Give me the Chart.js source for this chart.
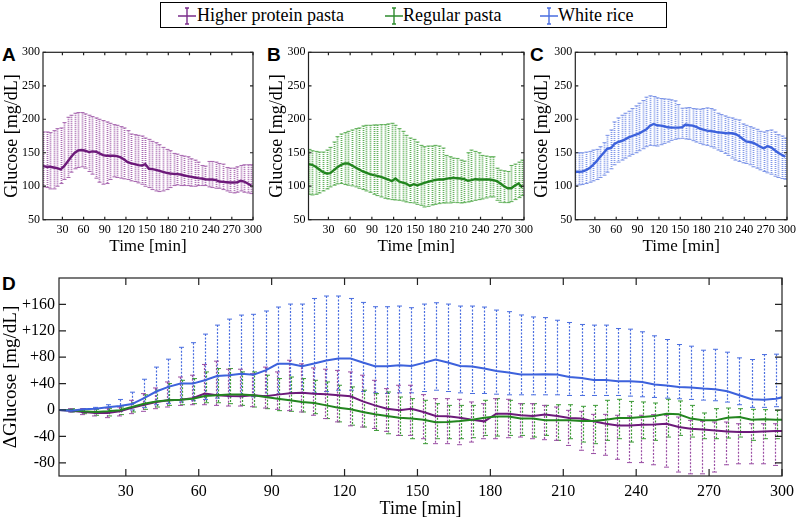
<!DOCTYPE html>
<html>
<head>
<meta charset="utf-8">
<script src="https://cdn.jsdelivr.net/npm/chart.js@4.4.1/dist/chart.umd.min.js"></script>
<style>
  body { margin: 0; background: #fff; width: 800px; height: 522px; position: relative; overflow: hidden; font-family: "Liberation Serif", "Times New Roman", serif; }
  canvas { position: absolute; }
  .tag { position: absolute; font: bold 19px/19px "Liberation Sans", Arial, sans-serif; color: #000; }
  #legend { position: absolute; left: 160px; top: 2px; width: 507px; height: 26px; border: 1px solid #000; box-sizing: border-box; font: 18px/20px "Liberation Serif", "Times New Roman", serif; color: #000; }
  #legend span { position: absolute; top: 2px; white-space: nowrap; }
  #legend svg { position: absolute; top: 4px; }
</style>
</head>
<body>
<div id="legend">
  <svg style="left:17px" width="18" height="18"><path d="M0 9H18M9 1V17M7 1H11M7 17H11" stroke="#7b2d8b" stroke-width="1.4" fill="none"/></svg>
  <span style="left:36px">Higher protein pasta</span>
  <svg style="left:224px" width="18" height="18"><path d="M0 9H18M9 1V17M7 1H11M7 17H11" stroke="#2e8b2e" stroke-width="1.4" fill="none"/></svg>
  <span style="left:242px">Regular pasta</span>
  <svg style="left:379px" width="18" height="18"><path d="M0 9H18M9 1V17M7 1H11M7 17H11" stroke="#4a6ee0" stroke-width="1.4" fill="none"/></svg>
  <span style="left:397px">White rice</span>
</div>
<div class="tag" style="left:2px;top:45px">A</div>
<div class="tag" style="left:267px;top:45px">B</div>
<div class="tag" style="left:530px;top:45px">C</div>
<div class="tag" style="left:2px;top:274px">D</div>
<canvas id="chartA" width="266" height="218" style="left:0;top:40px"></canvas>
<canvas id="chartB" width="272" height="218" style="left:265px;top:40px"></canvas>
<canvas id="chartC" width="269" height="218" style="left:531px;top:40px"></canvas>
<canvas id="chartD" width="800" height="260" style="left:0;top:262px"></canvas>
<script>
// sample times [min] (5-min intervals)
const times = [2.5,7.5,12.5,17.5,22.5,27.5,32.5,37.5,42.5,47.5,52.5,57.5,62.5,67.5,72.5,77.5,82.5,87.5,92.5,97.5,
  102.5,107.5,112.5,117.5,122.5,127.5,132.5,137.5,142.5,147.5,152.5,157.5,162.5,167.5,172.5,177.5,182.5,187.5,192.5,197.5,
  202.5,207.5,212.5,217.5,222.5,227.5,232.5,237.5,242.5,247.5,252.5,257.5,262.5,267.5,272.5,277.5,282.5,287.5,292.5,297.5];
const timesD = times.concat([302.5]);

const xTicks = [30, 60, 90, 120, 150, 180, 210, 240, 270, 300];
const yTicksAbs = [50, 100, 150, 200, 250, 300];
const yTicksDelta = [-80, -40, 0, 40, 80, 120, 160];

// A: higher protein pasta, glucose [mg/dL]
const proteinMean = [130,129,129,128,127,125,130,137,144,150, 153.5,154,153,151,152,151.5,149,146.5,145.5,145.5,
  145.5,145,143,140,136,134,133,131.5,131,133, 126,125.5,124.5,123,121.5,120,119,118.5,118,117.5,
  116,115,114,113,112,111.5,110.5,110,110,109, 107,106.5,106,105.5,105.5,106,108,107,104,101];
const proteinHi = [181,181,180,183,186,187,195,203,206,209, 210,210,208,206,204,202,200,198,196,194,
  192,191,189,187,183,178,177,176,175,172, 170,167,165,162,158,155,153,149,148,146,
  145,144,141,139,136,131,130,137,137,136, 134,133,128,127,127,129,131,132,132,132];
const proteinLo = [99,98,96,96,100,104,110,113,121,126, 128,129,127,122,118,112,106,103,104,110,
  114,113,112,111,110,108,107,105,103,100, 98,95,93,92,93,95,98,101,102,101,
  101,101,100,100,101,101,101,99,98,97, 97,95,93,91,90,91,93,91,90,89];

// B: regular pasta
const regularMean = [133,132,129,125,121,119,119.5,124,128.5,132, 134,134,131,128,125,122,120,118,116.5,115.5,
  114,112,110,107.5,111.5,107,105.5,104,100.5,103, 101.5,103,105,106.5,108,109.5,110,110,111,112,
  112.5,112,111.5,110.5,108,109,110.5,110,110,110, 110,109,107.5,104,100,97,97,101,104,98];
const regularHi = [155,153,152,151,151,154,158,166,174,178, 180,182,184,186,187,190,191,191,191.5,191.5,
  192,192,193,194,191,186,182,176,172,170, 166,161,159,160,160,161,160,157,146,144,
  142,141.5,139,137.5,150,154,152,150,146,145, 144,144,127,124,123,122,131,133,136,139];
const regularLo = [88,87,88,90,93,96,99,101.5,103.5,104, 102.5,101.5,100.5,99,97,95,93,91,88,86,
  84,82,81,80,79.5,79,78,76.5,75.5,75, 73,71.5,69,70,72,73,74,75,75,75,
  76,75.5,75,75.5,76.5,77.5,79,80,81,82.5, 84,84,79,76,75.5,75.5,77,80,83,86];

// C: white rice
const riceMean = [121.5,121.5,122,124,127,132,137.5,144,150,156, 157,163,166,167.5,170,173,175,177,179,182,
  185,190.5,193,191,190.5,189.5,188,187.5,187.5,187.5, 188,192,191,190.5,188.5,186,184.5,183,182.5,181.5,
  180.5,180,179.5,179,179,178,175,171,167,166, 165,162,159,156.5,160,158,154,150,147,144];
const riceHi = [150,150,150,151,152,154,155,159,165,176, 184,196,202,206,209,212,216,220,224,228,
  233,235,234,232,231,230.5,230,229,227.5,222, 216.5,217,217.5,216,215.5,215,216,217,216,214,
  209,207,205,203,202,200,199,193,191,189, 187,185,182,181,183,184,181,177,175,172];
const riceLo = [101.5,102,102.5,104,106,108,110,113,116.5,121, 126,132,136,139,142,145,147.5,150,153,156,
  159,161,160.5,160,162,164,166,168.5,170,171, 171.5,170.5,170,168,166,164,162,161,159,157,
  154,152,149,146,142,139,137,135,134,132, 129,127,124.5,122,120,118,115,113,111.5,110.5];

// D: change in glucose from baseline [mg/dL]
const riceDelta = [0,-1,1,2,4,6,9,18,28,35, 40,40,45,51.5,52.5,55,53.5,60,70,70,
  66.3,70.4,75,78,78,72,66.3,66.3,67.8,66.8, 71.4,76.5,72,66.8,65.8,62.8,59,56.7,53.7,53.7,
  54,53.7,50,48.6,45.6,45.6,43.5,43.5,42.5,38.5, 37,35,34,32.4,31.4,28.4,22.3,16.2,15.7,17.2, 21];
const riceDeltaHi = [0,1,2,4,8,16,27,46.6,65,77, 95,102,115,128.6,137.7,143.8,145,150,156,160.5,
  160.5,169,172.7,172.7,169,163,156.5,156.5,157.5,155, 160.5,162.5,160.5,157.5,157.5,156,151.4,149,144,141,
  140,136,132.6,129.6,128.6,128.6,123.5,122.5,118.5,112.4, 106.8,99.2,96.7,90.6,92,87.6,79,76.5,84,84.6, null];
const riceDeltaLo = [0,-3,-4,-4,-3,-2,0,4,8,10, 12,14,16,18,20,20,20,22,24,25,
  25,26,28,30,30,28,26,25,26,26, 28,30,28,26,25,25,24,23,23,23,
  23,23,22,22,22,22,22,21,20,19, 18,17,16,15,14,12,8,4,4,5, null];

const proteinDelta = [0,-1,-3,-4.5,-4.5,-2,3.5,8,12,14.7, 15.7,18,24.8,22.3,21.3,20.8,22.3,20.8,23.3,25.3,
  26.3,24.8,23.8,22.3,20.8,13,7,2,-0.5,2, -3,-9,-9.6,-11.6,-14.7,-17.2,-5.6,-5.6,-8,-9,
  -7,-9,-12,-13,-17.2,-20.8,-23.3,-23.3,-22.3,-21.8, -20.8,-25.8,-28.4,-29.4,-31,-32.4,-33.4,-33.4,-32.4,-32, -31.5];
const proteinDeltaHi = [0,2,2,2,3,4.5,14.7,24.8,33.4,42.5, 50,52.7,69,74,61.8,61.8,55,65,57.7,75.4,
  70,63.8,61.8,60,57.7,52.7,45,32.4,37.5,37.5, 23.3,17.2,17.2,16.2,12.2,9.6,17.2,16.2,9.6,9.6,
  7,4.5,-0.5,-2,-6.6,-6.6,-8,-9,-8,-7, -8,-10.6,-15.7,-17.2,-18.2,-18.2,-20.8,-20.8,-20.8,-20.8, null];
const proteinDeltaLo = [0,-3,-7,-9,-11.6,-9,-5.5,-2,2,4.5, 7,8,8,7,6,6,5,3,1,-1,
  -3,-8,-13,-18,-24,-25.8,-28,-32.4,-38.5,-38.5, -43.5,-51,-51,-52.6,-48.6,-43.5,-43.5,-42,-41,-43.5,
  -45,-46,-53.7,-61,-66,-68.6,-74.7,-79.7,-79.7,-83, -86.6,-94,-96.7,-96.7,-94,-83,-81.5,-81.5,-81.5,-84, null];

const regularDelta = [0,-0.5,-2,-3,-2,-0.5,4.5,9.6,13,14.7, 15.7,17.2,21.3,22.3,23.3,23.3,22.3,19.7,17.2,14.7,
  12.2,10.6,7,3.5,1,-3,-6.6,-9,-11.6,-13, -14.7,-18.7,-18.2,-16.7,-14.7,-11.6,-10,-10,-13,-13,
  -15.7,-15.7,-15.7,-16.7,-16.7,-14.7,-12,-12,-10.6,-9, -5.6,-6.6,-13,-15.7,-15.7,-11.6,-10.6,-14.7,-14.2,-14.7, -14.5];
const regularDeltaHi = [0,2,1,1,2,4.5,11,23,30,40, 45,47.6,57.7,62.8,62.8,57.7,57.7,52.7,47.6,50,
  47.6,45,42.5,37.5,35,30,24.8,27.3,19.7,17.2, 14.7,9.6,7,7,7,14.7,17.2,14.7,9.6,9.6,
  7,8,8,5.6,7,14.7,16.2,13,12.2,10.6, 16.2,13.7,7,-4.5,2,3,2,1,0.5,-0.5, null];
const regularDeltaLo = [0,-3,-5.6,-8,-9,-7,-3,1,4.5,7, 8,9.6,11,11,9.6,7,4.5,2,-1,-2,
  -3,-5.6,-13,-18,-23,-25.8,-31,-36,-38.5,-43.5, -51,-43.5,-43.5,-43.5,-42,-38.5,-39.5,-38.5,-38.5,-41,
  -38.5,-46,-43.5,-48.6,-51,-46,-43.5,-48.6,-43.5,-46, -41,-38.5,-41,-43.5,-43.5,-42.5,-41,-46,-43.5,-43.5, null];

const PURPLE = { line: "#6d1a7a", bar: "#9a4ea4", barSmall: "#a868b0" };
const GREEN = { line: "#23851f", bar: "#3d9b37", barSmall: "#5cae55" };
const BLUE = { line: "#3d62dc", bar: "#4a6ee0", barSmall: "#7d95e8" };
const SERIF = "'Liberation Serif', 'Times New Roman', serif";

// dotted vertical error bars with caps, drawn under the mean lines
const errorBars = {
  id: "errorBars",
  beforeDatasetsDraw(chart, args, opts) {
    const { ctx, chartArea: a, scales: { x, y } } = chart;
    ctx.save();
    ctx.beginPath();
    ctx.rect(a.left, a.top, a.right - a.left, a.bottom - a.top);
    ctx.clip();
    chart.data.datasets.forEach(ds => {
      ctx.strokeStyle = ds.barColor;
      ds.times.forEach((t, i) => {
        const h = ds.hi[i], l = ds.lo[i];
        if (h == null || h === l) return;
        const px = Math.round(x.getPixelForValue(t) + (ds.shift || 0)) + 0.5;
        const top = y.getPixelForValue(h), bot = y.getPixelForValue(l);
        ctx.lineWidth = opts.width;
        ctx.setLineDash(opts.dash);
        ctx.beginPath(); ctx.moveTo(px, top); ctx.lineTo(px, bot); ctx.stroke();
        ctx.setLineDash([]);
        ctx.lineWidth = 1;
        ctx.beginPath();
        ctx.moveTo(px - opts.cap, top); ctx.lineTo(px + opts.cap, top);
        ctx.moveTo(px - opts.cap, bot); ctx.lineTo(px + opts.cap, bot);
        ctx.stroke();
      });
    });
    ctx.restore();
  }
};

// box around the plot with inward ticks on all four sides
const box = {
  id: "box",
  afterDraw(chart, args, opts) {
    const { ctx, chartArea: a, scales: { x, y } } = chart;
    ctx.save();
    ctx.strokeStyle = "#222";
    ctx.lineWidth = 1.2;
    ctx.strokeRect(a.left, a.top, a.right - a.left, a.bottom - a.top);
    ctx.beginPath();
    x.ticks.forEach(t => {
      const px = x.getPixelForValue(t.value);
      ctx.moveTo(px, a.bottom); ctx.lineTo(px, a.bottom - opts.len);
      ctx.moveTo(px, a.top); ctx.lineTo(px, a.top + opts.len);
    });
    y.ticks.forEach(t => {
      const py = y.getPixelForValue(t.value);
      ctx.moveTo(a.left, py); ctx.lineTo(a.left + opts.len, py);
      ctx.moveTo(a.right, py); ctx.lineTo(a.right - opts.len, py);
    });
    ctx.stroke();
    ctx.restore();
  }
};

function glucoseChart(id, sets, cfg) {
  return new Chart(document.getElementById(id), {
    type: "line",
    data: {
      datasets: sets.map(s => ({
        data: s.times.map((t, i) => ({ x: t, y: s.mean[i] })),
        times: s.times, hi: s.hi, lo: s.lo, shift: s.shift,
        borderColor: s.line, barColor: s.bar,
        borderWidth: cfg.lineWidth, pointRadius: 0, tension: 0
      }))
    },
    options: {
      responsive: false,
      animation: false,
      layout: { padding: cfg.pad },
      plugins: {
        legend: { display: false },
        tooltip: { enabled: false },
        errorBars: cfg.bars,
        box: { len: cfg.tickLen }
      },
      scales: {
        x: {
          type: "linear", min: 2.5, max: 300,
          afterBuildTicks: s => { s.ticks = xTicks.map(v => ({ value: v })); },
          afterFit: s => { s.height = cfg.xh; },
          grid: { display: false, drawTicks: false }, border: { display: false },
          ticks: { color: "#000", font: { family: SERIF, size: cfg.tickSize }, padding: cfg.xPad, maxRotation: 0, autoSkip: false },
          title: { display: true, text: "Time [min]", color: "#000", font: { family: SERIF, size: cfg.xTitleSize }, padding: { top: 0, bottom: cfg.xTitlePad } }
        },
        y: {
          min: cfg.yMin, max: cfg.yMax,
          afterBuildTicks: s => { s.ticks = cfg.yTicks.map(v => ({ value: v })); },
          afterFit: s => { s.width = cfg.yw; },
          grid: { display: false, drawTicks: false }, border: { display: false },
          ticks: { color: "#000", font: { family: SERIF, size: cfg.yTickSize }, padding: cfg.yPad, callback: cfg.yFmt || (v => v) },
          title: { display: true, text: cfg.yTitle, color: "#000", font: { family: SERIF, size: cfg.yTitleSize }, padding: { top: cfg.yTitlePad, bottom: 0 } }
        }
      }
    },
    plugins: [errorBars, box]
  });
}

const smallCfg = {
  lineWidth: 2.4, xh: 38.3, tickSize: 12, yTickSize: 12, xPad: 3, xTitleSize: 17, xTitlePad: 1,
  yMin: 50, yMax: 300, yTicks: yTicksAbs, yTitle: "Glucose [mg/dL]", yTitleSize: 18, yTitlePad: 1, yPad: 3,
  tickLen: 3, bars: { width: 1.8, dash: [1, 1], cap: 2 }
};

glucoseChart("chartA", [{ times, mean: proteinMean, hi: proteinHi, lo: proteinLo, line: PURPLE.line, bar: PURPLE.barSmall }],
  Object.assign({}, smallCfg, { yw: 43, pad: { top: 12.3, right: 13, left: 0, bottom: 0 } }));
glucoseChart("chartB", [{ times, mean: regularMean, hi: regularHi, lo: regularLo, line: GREEN.line, bar: GREEN.barSmall }],
  Object.assign({}, smallCfg, { yw: 43.5, pad: { top: 12.3, right: 13, left: 0, bottom: 0 } }));
glucoseChart("chartC", [{ times, mean: riceMean, hi: riceHi, lo: riceLo, line: BLUE.line, bar: BLUE.barSmall }],
  Object.assign({}, smallCfg, { yw: 44.3, yTitlePad: 0, pad: { top: 12.3, right: 13, left: 0, bottom: 0 } }));

glucoseChart("chartD", [
  { times: timesD, mean: riceDelta, hi: riceDeltaHi, lo: riceDeltaLo, line: BLUE.line, bar: BLUE.bar, shift: 0 },
  { times: timesD, mean: regularDelta, hi: regularDeltaHi, lo: regularDeltaLo, line: GREEN.line, bar: GREEN.bar, shift: 1 },
  { times: timesD, mean: proteinDelta, hi: proteinDeltaHi, lo: proteinDeltaLo, line: PURPLE.line, bar: PURPLE.bar, shift: -1 }
], {
  lineWidth: 2, xh: 46, tickSize: 16, yTickSize: 16, xPad: 6, xTitleSize: 18, xTitlePad: 2,
  yMin: -100, yMax: 200, yTicks: yTicksDelta, yTitle: "\u0394Glucose [mg/dL]", yTitleSize: 19, yTitlePad: 0, yPad: 4,
  yFmt: v => (v > 0 ? "+" + v : String(v)),
  yw: 59, pad: { top: 16, right: 13, left: 0, bottom: 0 },
  tickLen: 7, bars: { width: 1.2, dash: [2, 1.5], cap: 2.5 }
});
</script>
</body>
</html>
